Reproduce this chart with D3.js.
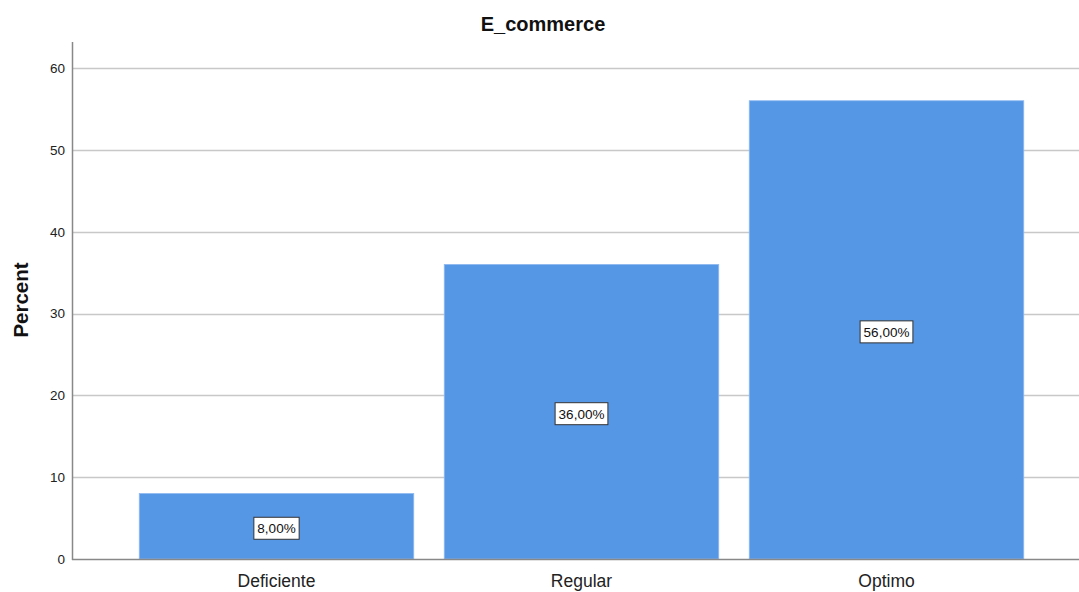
<!DOCTYPE html>
<html>
<head>
<meta charset="utf-8">
<script src="https://cdn.jsdelivr.net/npm/d3@7"></script>
<style>
  body { margin: 0; background: #fff; }
  svg { display: block; font-family: "Liberation Sans", Arial, sans-serif; }
</style>
</head>
<body>
<svg id="chart" width="1079" height="592"></svg>
<script>
const categories = ["Deficiente", "Regular", "Optimo"];
const percents = [8, 36, 56];
const valueLabels = ["8,00%", "36,00%", "56,00%"];
const yTicks = [0, 10, 20, 30, 40, 50, 60];

const svg = d3.select("#chart");
const W = 1079;

const x = d3.scaleBand()
  .domain(categories)
  .range([124, 1039])
  .paddingInner(0.1)
  .paddingOuter(0.05);

const y = d3.scaleLinear()
  .domain([0, 60])
  .range([559, 68]);

const axisX = 72;

// Gridlines
svg.append("g")
  .selectAll("line")
  .data(yTicks.filter(d => d > 0))
  .join("line")
  .attr("x1", axisX).attr("x2", W)
  .attr("y1", d => Math.round(y(d)) + 0.5)
  .attr("y2", d => Math.round(y(d)) + 0.5)
  .attr("stroke", "#c8c8c8")
  .attr("stroke-width", 1.3);

// Bars
svg.append("g")
  .selectAll("rect")
  .data(categories)
  .join("rect")
  .attr("x", d => x(d))
  .attr("width", x.bandwidth())
  .attr("y", (d, i) => y(percents[i]))
  .attr("height", (d, i) => y(0) - y(percents[i]))
  .attr("fill", "#5596e5")
  .attr("stroke", "#8fbaf0")
  .attr("stroke-width", 0.8);

// Axis lines
svg.append("line")
  .attr("x1", axisX + 0.5).attr("x2", axisX + 0.5)
  .attr("y1", 42).attr("y2", 560)
  .attr("stroke", "#888").attr("stroke-width", 1.5);

svg.append("line")
  .attr("x1", axisX).attr("x2", W)
  .attr("y1", y(0) + 0.5).attr("y2", y(0) + 0.5)
  .attr("stroke", "#888").attr("stroke-width", 1.5);

// Y tick labels
svg.append("g")
  .selectAll("text")
  .data(yTicks)
  .join("text")
  .attr("x", 65)
  .attr("y", d => y(d))
  .attr("dy", "0.36em")
  .attr("text-anchor", "end")
  .attr("font-size", 13.5)
  .attr("fill", "#222")
  .text(d => d);

// X tick labels
svg.append("g")
  .selectAll("text")
  .data(categories)
  .join("text")
  .attr("x", d => x(d) + x.bandwidth() / 2)
  .attr("y", 587)
  .attr("text-anchor", "middle")
  .attr("font-size", 17.5)
  .attr("fill", "#222")
  .text(d => d);

// Value labels inside bars
const lbl = svg.append("g")
  .selectAll("g")
  .data(categories)
  .join("g")
  .attr("transform", (d, i) =>
    `translate(${x(d) + x.bandwidth() / 2},${y(percents[i] / 2) + 2})`);

lbl.each(function(d, i) {
  const g = d3.select(this);
  const t = g.append("text")
    .attr("text-anchor", "middle")
    .attr("dy", "0.36em")
    .attr("font-size", 13.5)
    .attr("fill", "#111")
    .text(valueLabels[i]);
  const bb = t.node().getBBox();
  g.insert("rect", "text")
    .attr("x", bb.x - 3.5)
    .attr("y", -11)
    .attr("width", bb.width + 7)
    .attr("height", 22)
    .attr("fill", "#fff")
    .attr("stroke", "#333")
    .attr("stroke-width", 1);
});

// Titles
svg.append("text")
  .attr("x", 543).attr("y", 31)
  .attr("text-anchor", "middle")
  .attr("font-size", 20)
  .attr("font-weight", "bold")
  .attr("fill", "#111")
  .text("E_commerce");

svg.append("text")
  .attr("transform", "translate(28,300) rotate(-90)")
  .attr("text-anchor", "middle")
  .attr("font-size", 20.5)
  .attr("font-weight", "bold")
  .attr("fill", "#111")
  .text("Percent");
</script>
</body>
</html>
